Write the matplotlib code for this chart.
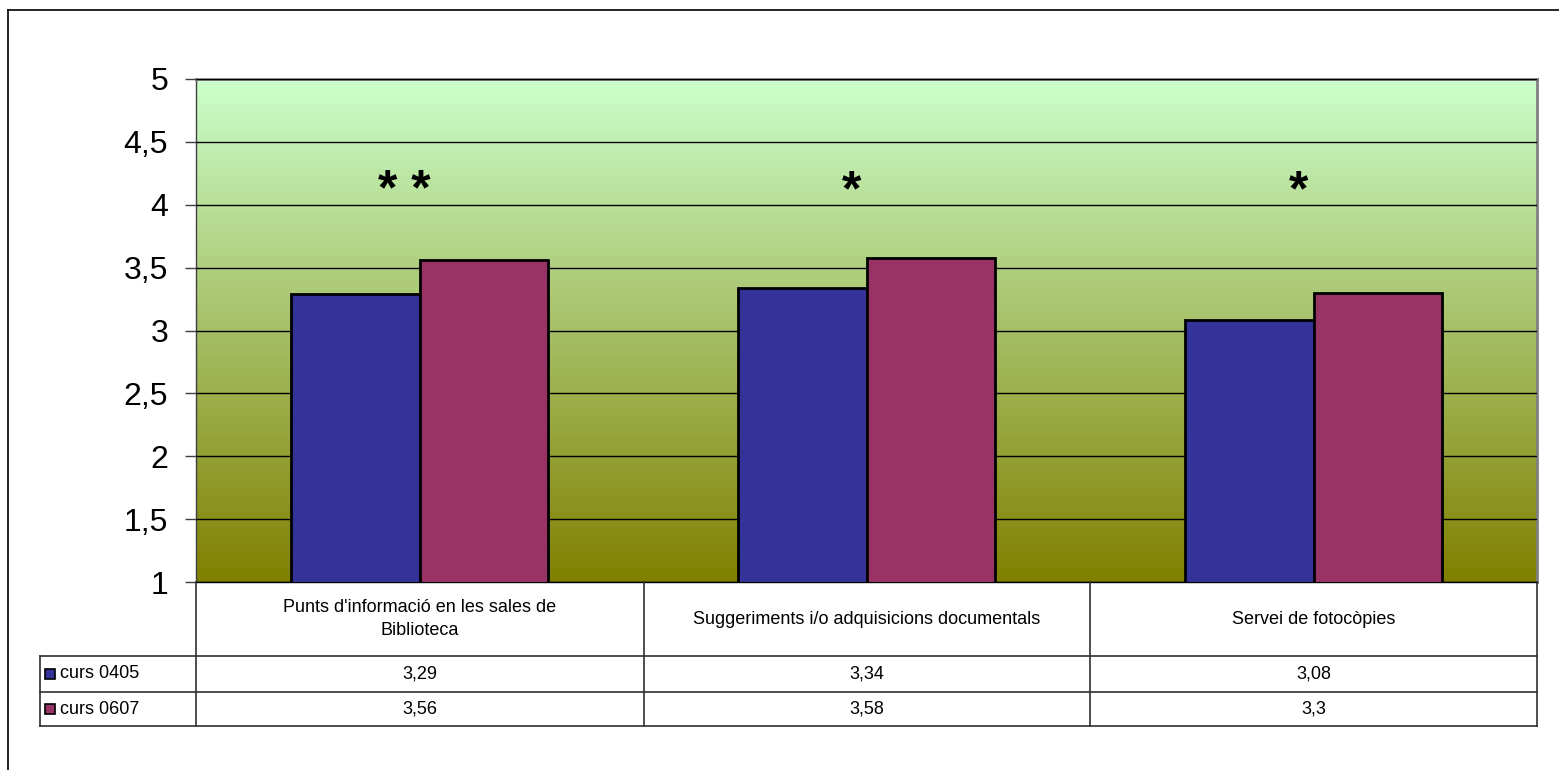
import numpy as np
import matplotlib.pyplot as plt
from matplotlib.colors import LinearSegmentedColormap
from matplotlib.lines import Line2D
from matplotlib.patches import Rectangle

categories = ["Punts d'informació en les sales de\nBiblioteca",
              "Suggeriments i/o adquisicions documentals",
              "Servei de fotocòpies"]
series_names = ["curs 0405", "curs 0607"]
curs_0405 = [3.29, 3.34, 3.08]
curs_0607 = [3.56, 3.58, 3.30]
value_labels_0405 = ["3,29", "3,34", "3,08"]
value_labels_0607 = ["3,56", "3,58", "3,3"]
stars = ["* *", "*", "*"]
yticks = [1, 1.5, 2, 2.5, 3, 3.5, 4, 4.5, 5]
ytick_labels = ["1", "1,5", "2", "2,5", "3", "3,5", "4", "4,5", "5"]

W, H = 1559, 770
plt.rcParams['font.family'] = ['Liberation Sans', 'DejaVu Sans']
fig = plt.figure(figsize=(W / 100, H / 100), dpi=100)
fig.patch.set_facecolor('white')

# axes placed by pixel
L, R, T, B = 196, 1537, 79, 582
ax = fig.add_axes([L / W, 1 - B / H, (R - L) / W, (B - T) / H])

# gradient background
cmap = LinearSegmentedColormap.from_list('bg', ['#808000', '#CCFFCC'])
grad = np.linspace(0, 1, 256).reshape(-1, 1)
ax.imshow(grad, aspect='auto', cmap=cmap, origin='lower',
          extent=[-0.5, 2.5, 1, 5], zorder=0)

x = np.arange(len(categories))
bw = 0.288
ax.bar(x - bw / 2, curs_0405, bw, bottom=0, color='#333399',
       edgecolor='black', linewidth=2, zorder=3)
ax.bar(x + bw / 2, curs_0607, bw, bottom=0, color='#993366',
       edgecolor='black', linewidth=2, zorder=3)

for xi, s in zip(x, stars):
    ax.text(xi - 0.033, 4.1, s, ha='center', va='center', fontsize=36,
            fontweight='bold', zorder=4)

ax.set_xlim(-0.5, 2.5)
ax.set_ylim(1, 5)
ax.set_yticks(yticks)
ax.set_yticklabels(ytick_labels, fontsize=23)
ax.yaxis.grid(True, color='black', linewidth=1, zorder=1)
ax.set_axisbelow(False)
ax.set_xticks([])
ax.tick_params(axis='y', length=8, width=1, color='#404040', pad=12)
for sp in ax.spines.values():
    sp.set_color('#808080')
    sp.set_linewidth(2)
ax.spines['left'].set_color('#404040')
ax.spines['left'].set_linewidth(1)
ax.spines['bottom'].set_color('black')
ax.spines['bottom'].set_linewidth(1)

# data table below axes, in pixels
def fx(px):
    return px / W

def fy(py):
    return 1 - py / H

col_edges = [196, 644, 1090, 1537]
row_edges = [582, 656, 692, 726]
leg_left = 40
lc = '#303030'

def line(x0, y0, x1, y1, c=lc, lw=1.2):
    fig.add_artist(Line2D([fx(x0), fx(x1)], [fy(y0), fy(y1)], color=c, lw=lw))

for cx in col_edges:
    line(cx, row_edges[0], cx, row_edges[-1])
line(leg_left, row_edges[1], leg_left, row_edges[-1])
for ry in row_edges[1:]:
    line(leg_left, ry, col_edges[-1], ry)

for i, cat in enumerate(categories):
    cxm = (col_edges[i] + col_edges[i + 1]) / 2
    fig.text(fx(cxm), fy((row_edges[0] + row_edges[1]) / 2), cat,
             ha='center', va='center', fontsize=13, linespacing=1.5)
    fig.text(fx(cxm), fy((row_edges[1] + row_edges[2]) / 2), value_labels_0405[i],
             ha='center', va='center', fontsize=13)
    fig.text(fx(cxm), fy((row_edges[2] + row_edges[3]) / 2), value_labels_0607[i],
             ha='center', va='center', fontsize=13)

for j, (name, col) in enumerate(zip(series_names, ['#333399', '#993366'])):
    yc = (row_edges[j + 1] + row_edges[j + 2]) / 2
    fig.add_artist(Rectangle((fx(45), fy(yc + 5)), fx(10), 10 / H,
                             facecolor=col, edgecolor='black', lw=1.2))
    fig.text(fx(60), fy(yc), name, ha='left', va='center', fontsize=13)

# outer frame (top and left visible)
line(8, 10, W, 10, c='black', lw=1.2)
line(8, 10, 8, H, c='black', lw=1.2)

fig.savefig('out.png', dpi=100)
